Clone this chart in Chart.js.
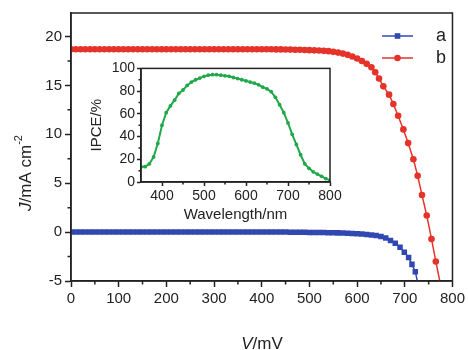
<!DOCTYPE html>
<html>
<head>
<meta charset="utf-8">
<script src="https://cdn.jsdelivr.net/npm/chart.js@4.4.0/dist/chart.umd.min.js"></script>
<style>
  body { margin: 0; background: #fff; }
  #wrap { position: relative; width: 468px; height: 350px; }
  #main { position: absolute; left: 0; top: 0; }
  #inset { position: absolute; left: 80px; top: 58px; }
</style>
</head>
<body>
<div id="wrap">
  <canvas id="main" width="468" height="350"></canvas>
  <canvas id="inset" width="265" height="172"></canvas>
</div>
<script>
// J-V curve a (V in mV, J in mA cm-2)
const voltageA = [0,10,20,30,40,50,60,70,80,90,100,110,120,130,140,150,160,170,180,190,200,
  210,220,230,240,250,260,270,280,290,300,310,320,330,340,350,360,370,380,390,400,
  410,420,430,440,450,460,470,480,490,500,510,520,530,540,550,560,570,580,590,600,
  610,620,630,640,650,660,670,680,690,699,708,715,722,729];
const currentA = [0,0,0,0,0,0,0,0,0,0,0,0,0,0,0,0,0,0,0,0,0,
  0,0,0,0,0,0,0,0,0,0,0,0,0,0,0,0,0,0,0,0,
  0,0,0,0,0,-0.01,-0.01,-0.02,-0.02,-0.03,-0.03,-0.04,-0.05,-0.06,-0.07,-0.08,-0.1,-0.12,-0.14,-0.17,
  -0.2,-0.24,-0.29,-0.36,-0.46,-0.6,-0.85,-1.15,-1.55,-2.05,-2.6,-3.3,-4.05,-5.6];

// J-V curve b
const voltageB = [0,10,20,30,40,50,60,70,80,90,100,110,120,130,140,150,160,170,180,190,200,
  210,220,230,240,250,260,270,280,290,300,310,320,330,340,350,360,370,380,390,400,
  410,420,430,440,450,460,470,480,490,500,510,520,530,540,550,560,570,580,590,600,
  610,620,630,638,646,655,667,676,686,697,707,718,727,736,746,756,765,775];
const currentB = [18.7,18.7,18.7,18.7,18.7,18.7,18.7,18.7,18.7,18.7,18.7,18.7,18.7,18.7,18.7,18.7,18.7,18.7,18.7,18.7,18.7,
  18.7,18.7,18.7,18.7,18.7,18.7,18.7,18.7,18.7,18.7,18.7,18.7,18.7,18.7,18.7,18.7,18.7,18.7,18.7,18.7,
  18.69,18.69,18.68,18.68,18.67,18.66,18.65,18.64,18.62,18.6,18.58,18.56,18.53,18.5,18.43,18.35,18.25,18.12,17.95,17.75,
  17.5,17.2,16.85,16.35,15.7,14.9,14.05,13.1,11.9,10.5,9.1,7.45,5.75,3.8,1.7,-0.7,-3.0,-5.4];

// IPCE spectrum (inset)
const wavelength = [350,360,370,380,390,400,410,420,430,440,450,460,470,480,490,500,510,520,530,540,
  550,560,570,580,590,600,610,620,630,640,650,660,670,680,690,700,710,720,730,740,
  750,760,770,780,790,800];
const ipce = [13.5,13.5,16,22,34,50,61,67,72,78,81,85,88,90,91.5,93,94,94.5,94.5,94,
  93.5,93,92,91,90,89,88,87,85.5,83.5,82,79.5,74.5,68,61,52,42,33,24,16,
  12,9,7,5,3,1.5];

const xTicks = [0,100,200,300,400,500,600,700,800];
const xMinor = [50,150,250,350,450,550,650,750];
const yTicks = [-5,0,5,10,15,20];
const yMinor = [-2.5,2.5,7.5,12.5,17.5];
const insetXTicks = [400,500,600,700,800];
const insetXMinor = [450,550,650,750];
const insetYTicks = [0,20,40,60,80,100];
const insetYMinor = [10,30,50,70,90];

const seriesNames = ['a', 'b'];
const blue = '#3048b0';
const red = '#e5332a';
const green = '#22a84a';
const ink = '#222';

const pts = (xs, ys) => xs.map((x, i) => ({x: x, y: ys[i]}));

// frame + minor ticks, shared by both charts
function frameAndMinor(minorX, minorY, len) {
  return {
    id: 'frameMinor',
    afterDraw(chart) {
      const {ctx, chartArea: a, scales} = chart;
      ctx.save();
      ctx.strokeStyle = ink;
      ctx.lineWidth = 1.5;
      ctx.strokeRect(a.left, a.top, a.right - a.left, a.bottom - a.top);
      ctx.beginPath();
      minorX.forEach(v => {
        const p = scales.x.getPixelForValue(v);
        ctx.moveTo(p, a.bottom);
        ctx.lineTo(p, a.bottom + len);
      });
      minorY.forEach(v => {
        const p = scales.y.getPixelForValue(v);
        ctx.moveTo(a.left - len, p);
        ctx.lineTo(a.left, p);
      });
      ctx.stroke();
      ctx.restore();
    }
  };
}

const mainDecor = {
  id: 'mainDecor',
  afterDraw(chart) {
    const ctx = chart.ctx;
    ctx.save();
    ctx.fillStyle = ink;
    // y title: J/mA cm-2
    ctx.translate(26, 173);
    ctx.rotate(-Math.PI / 2);
    ctx.textBaseline = 'middle';
    const f1 = 'italic 17px "Liberation Sans", Arial, sans-serif';
    const f2 = '17px "Liberation Sans", Arial, sans-serif';
    const f3 = '11px "Liberation Sans", Arial, sans-serif';
    ctx.font = f1; const w1 = ctx.measureText('J').width;
    ctx.font = f2; const w2 = ctx.measureText('/mA cm').width;
    ctx.font = f3; const w3 = ctx.measureText('-2').width;
    let x = -(w1 + w2 + w3) / 2;
    ctx.font = f1; ctx.fillText('J', x, 0); x += w1;
    ctx.font = f2; ctx.fillText('/mA cm', x, 0); x += w2;
    ctx.font = f3; ctx.fillText('-2', x, -7);
    ctx.restore();

    // x title: V/mV
    ctx.save();
    ctx.fillStyle = ink;
    ctx.textBaseline = 'alphabetic';
    ctx.font = f1; const v1 = ctx.measureText('V').width;
    ctx.font = f2; const v2 = ctx.measureText('/mV').width;
    let vx = 262 - (v1 + v2) / 2;
    ctx.font = f1; ctx.fillText('V', vx, 349); vx += v1;
    ctx.font = f2; ctx.fillText('/mV', vx, 349);

    // legend
    const rows = [{c: blue, s: 'rect', y: 36}, {c: red, s: 'circle', y: 58}];
    rows.forEach((r, i) => {
      ctx.strokeStyle = r.c;
      ctx.fillStyle = r.c;
      ctx.lineWidth = 1.5;
      ctx.beginPath();
      ctx.moveTo(382, r.y);
      ctx.lineTo(413, r.y);
      ctx.stroke();
      if (r.s === 'rect') {
        ctx.fillRect(397.5 - 2.8, r.y - 2.8, 5.6, 5.6);
      } else {
        ctx.beginPath();
        ctx.arc(397.5, r.y, 3.3, 0, Math.PI * 2);
        ctx.fill();
      }
      ctx.fillStyle = ink;
      ctx.font = '18px "Liberation Sans", Arial, sans-serif';
      ctx.textBaseline = 'middle';
      ctx.fillText(seriesNames[i], 436, r.y);
    });
    ctx.restore();
  }
};

const whiteBg = {
  id: 'whiteBg',
  beforeDraw(chart) {
    const ctx = chart.ctx;
    ctx.save();
    ctx.fillStyle = '#fff';
    ctx.fillRect(0, 0, chart.width, chart.height);
    ctx.restore();
  }
};

new Chart(document.getElementById('main'), {
  type: 'line',
  data: {
    datasets: [
      {label: seriesNames[0], data: pts(voltageA, currentA), borderColor: blue, backgroundColor: blue,
       borderWidth: 1.5, pointStyle: 'rect', pointRadius: 3.9, pointBorderWidth: 0, pointHoverRadius: 0},
      {label: seriesNames[1], data: pts(voltageB, currentB), borderColor: red, backgroundColor: red,
       borderWidth: 1.5, pointStyle: 'circle', pointRadius: 3.3, pointBorderWidth: 0, pointHoverRadius: 0}
    ]
  },
  options: {
    responsive: false,
    animation: false,
    layout: {padding: {left: 0, top: 13, right: 15, bottom: 0}},
    plugins: {legend: {display: false}, tooltip: {enabled: false}},
    scales: {
      x: {
        type: 'linear', min: 0, max: 800,
        afterBuildTicks: s => { s.ticks = xTicks.map(v => ({value: v})); },
        afterFit: s => { s.height = 69; },
        border: {display: true, color: ink, width: 1.5},
        grid: {drawOnChartArea: false, drawTicks: true, tickLength: 6, tickColor: ink, tickWidth: 1.5},
        ticks: {color: ink, padding: 3, maxRotation: 0, autoSkip: false,
                font: {family: '"Liberation Sans", Arial, sans-serif', size: 15}}
      },
      y: {
        type: 'linear', min: -5, max: 22.4,
        afterBuildTicks: s => { s.ticks = yTicks.map(v => ({value: v})); },
        afterFit: s => { s.width = 71; },
        border: {display: true, color: ink, width: 1.5},
        grid: {drawOnChartArea: false, drawTicks: true, tickLength: 6, tickColor: ink, tickWidth: 1.5},
        ticks: {color: ink, padding: 3, autoSkip: false,
                font: {family: '"Liberation Sans", Arial, sans-serif', size: 15}}
      }
    }
  },
  plugins: [whiteBg, frameAndMinor(xMinor, yMinor, 3.5), mainDecor]
});

new Chart(document.getElementById('inset'), {
  type: 'line',
  data: {
    datasets: [
      {label: 'IPCE', data: pts(wavelength, ipce), borderColor: green, backgroundColor: green,
       borderWidth: 2, pointRadius: 1.9, pointBorderWidth: 0, pointHoverRadius: 0}
    ]
  },
  options: {
    responsive: false,
    animation: false,
    layout: {padding: {left: 0, top: 10, right: 15, bottom: 0}},
    plugins: {legend: {display: false}, tooltip: {enabled: false}},
    scales: {
      x: {
        type: 'linear', min: 350, max: 800,
        afterBuildTicks: s => { s.ticks = insetXTicks.map(v => ({value: v})); },
        afterFit: s => { s.height = 48; },
        border: {display: true, color: ink, width: 1.5},
        grid: {drawOnChartArea: false, drawTicks: true, tickLength: 4, tickColor: ink, tickWidth: 1.5},
        ticks: {color: ink, padding: 2, maxRotation: 0, autoSkip: false,
                font: {family: '"Liberation Sans", Arial, sans-serif', size: 14}},
        title: {display: true, text: 'Wavelength/nm', color: ink, padding: {top: 2, bottom: 6},
                font: {family: '"Liberation Sans", Arial, sans-serif', size: 15}}
      },
      y: {
        type: 'linear', min: 0, max: 100,
        afterBuildTicks: s => { s.ticks = insetYTicks.map(v => ({value: v})); },
        afterFit: s => { s.width = 61; },
        border: {display: true, color: ink, width: 1.5},
        grid: {drawOnChartArea: false, drawTicks: true, tickLength: 4, tickColor: ink, tickWidth: 1.5},
        ticks: {color: ink, padding: 2, autoSkip: false,
                font: {family: '"Liberation Sans", Arial, sans-serif', size: 14}},
        title: {display: true, text: 'IPCE/%', color: ink, padding: {top: 8, bottom: 2},
                font: {family: '"Liberation Sans", Arial, sans-serif', size: 15}}
      }
    }
  },
  plugins: [frameAndMinor(insetXMinor, insetYMinor, 2.5)]
});
</script>
</body>
</html>
